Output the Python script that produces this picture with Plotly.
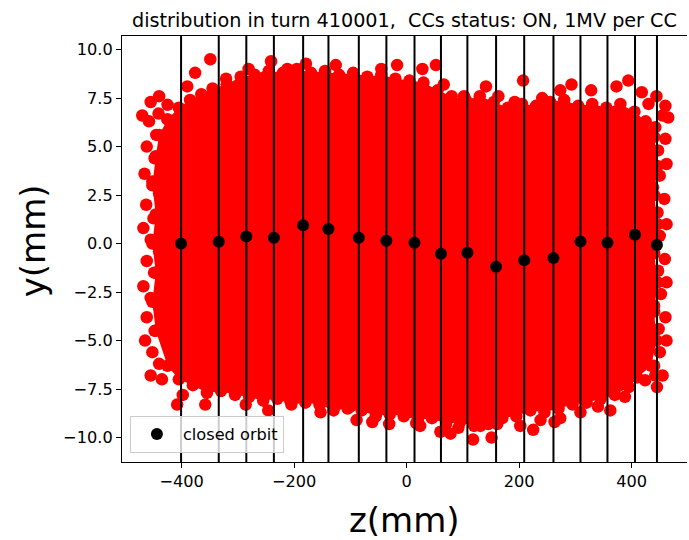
import plotly.graph_objects as go

# Crab-cavity positions along the bunch (mm) and the closed orbit measured at them (mm)
cc_z = [-401, -334, -285, -236, -184, -139, -85, -36, 14, 61, 108, 159, 209, 261, 309, 357, 406, 445]
orbit_y = [0.0, 0.09, 0.37, 0.30, 0.95, 0.75, 0.30, 0.15, 0.04, -0.52, -0.47, -1.2, -0.86, -0.75, 0.11, 0.04, 0.45, -0.07]

# Outline of the densely populated core of the particle distribution (z, y in mm)
core_z = [-425, -405, -385, -365, -345, -320, -295, -270, -245, -220, -195, -170, -145, -120,
          -95, -70, -45, -20, 5, 30, 55, 80, 105, 130, 155, 180, 205, 230, 255, 280, 305, 330,
          355, 380, 405, 425,
          440, 446, 440, 446, 440, 446, 440, 444, 435,
          410, 395, 370, 345, 320, 295, 270, 245, 220, 195, 170, 145, 120, 95, 70, 45, 20,
          -5, -30, -55, -80, -105, -130, -155, -180, -205, -230, -255, -280, -305, -330,
          -355, -380, -405, -425,
          -446, -452, -446, -452, -446, -452, -446, -440]
core_y = [6.4, 7.0, 7.4, 7.7, 8.0, 8.2, 8.6, 8.7, 8.9, 8.8, 9.0, 8.8, 8.9, 8.7,
          8.8, 8.6, 8.7, 8.5, 8.4, 8.3, 7.9, 7.6, 7.4, 7.6, 7.3, 7.0, 7.2, 7.1, 7.3, 7.4, 7.1, 7.2,
          7.0, 7.2, 6.8, 6.3,
          5.5, 4.0, 2.5, 1.0, -0.5, -2.0, -3.5, -5.0, -6.3,
          -6.9, -7.4, -7.8, -8.0, -8.2, -8.3, -8.5, -8.7, -8.6, -8.9, -9.0, -9.3, -9.4, -9.2, -9.3, -9.0, -9.1,
          -8.9, -8.8, -8.9, -8.6, -8.5, -8.6, -8.3, -8.2, -8.3, -8.0, -8.1, -7.9, -7.8, -7.6,
          -7.7, -7.3, -7.0, -6.3,
          -4.5, -3.0, -1.5, 0.0, 1.5, 3.0, 4.5, 5.6]

# Individual particles outside the core (z, y in mm)
halo_z = [-441, -425, -390, -376, -349, -321, -281, -241, -251, -212, -179, -126, -45, -17, 28, 52,
          66, 102, 141, 163, 192, 207, 241, 273, 293, 328, 373, 394, 418, 444, 460, 430, 465,
          -455, -440, -470,
          -458, -445, -462, -448, -466, -452, -440, -463, -450, -468, -455, -440, -462, -449,
          -468, -455, -440, -462, -448, -465, -452, -440, -455, -435,
          -408, -398, -358, -286, -246, -207, -153, -100, -89, -61, -31, 17, 24, 60, 78, 92, 118, 151,
          131, 161, 202, 225, 238, 263, 273, 309, 340, 362, 388, 424, 442,
          455, 442, 460, 447, 462, 450, 438, 458, 446, 462, 450, 438, 459, 447,
          462, 452, 440, 460, 448, 462, 450, 440, 455, 445]
halo_y = [6.7, 7.15, 8.1, 8.8, 9.5, 8.5, 9.0, 9.4, 8.6, 9.0, 9.27, 9.2, 9.0, 9.2, 9.0, 9.2,
          8.2, 7.6, 8.1, 7.6, 7.3, 8.4, 7.5, 7.9, 8.2, 7.9, 8.1, 8.4, 7.8, 7.6, 7.1, 7.2, 6.5,
          7.3, 7.6, 6.6,
          6.3, 5.6, 5.0, 4.4, 3.6, 3.2, 2.6, 2.0, 1.3, 0.8, 0.2, -0.4, -0.9, -1.5,
          -2.2, -2.8, -3.3, -3.8, -4.5, -5.0, -5.6, -6.2, -6.8, -7.0,
          -8.3, -7.8, -8.3, -8.3, -8.6, -8.1, -8.7, -8.4, -9.1, -9.2, -9.3, -9.26, -9.4, -9.7, -9.8, -9.5, -10.1, -10.0,
          -9.4, -9.3, -9.4, -9.6, -9.1, -9.2, -9.0, -8.7, -8.4, -8.6, -7.9, -7.05, -6.8,
          6.6, 6.0, 5.4, 4.8, 4.1, 3.5, 2.9, 2.3, 1.6, 1.0, 0.4, -0.2, -0.8, -1.4,
          -2.0, -2.6, -3.2, -3.8, -4.4, -5.0, -5.6, -6.3, -6.8, -7.4]

x_ticks = [-400, -200, 0, 200, 400]
x_tick_text = ["\u2212400", "\u2212200", "0", "200", "400"]
y_ticks = [-10.0, -7.5, -5.0, -2.5, 0.0, 2.5, 5.0, 7.5, 10.0]
y_tick_text = ["\u221210.0", "\u22127.5", "\u22125.0", "\u22122.5", "0.0", "2.5", "5.0", "7.5", "10.0"]

RED = "#ff0000"
FONT = "DejaVu Sans"
TICK_SIZE = 16.2

fig = go.Figure()

fig.add_trace(go.Scatter(
    x=core_z + core_z[:1], y=core_y + core_y[:1],
    mode="markers", fill="toself", fillcolor=RED,
    marker=dict(color=RED, size=12.5, line=dict(width=0)),
    line=dict(width=0, color=RED), showlegend=False, hoverinfo="skip"))

fig.add_trace(go.Scatter(
    x=halo_z, y=halo_y, mode="markers",
    marker=dict(color=RED, size=12.5, line=dict(width=0)),
    showlegend=False))

# Crab-cavity locations
for z in cc_z:
    fig.add_shape(type="line", xref="x", yref="paper", x0=z, x1=z, y0=0, y1=1,
                  line=dict(color="black", width=2), layer="above")

fig.add_trace(go.Scatter(
    x=cc_z, y=orbit_y, mode="markers", name="closed orbit",
    marker=dict(color="black", size=12, line=dict(width=0))))

fig.update_layout(
    width=689, height=540,
    margin=dict(l=122, r=2, t=36, b=78),
    paper_bgcolor="white", plot_bgcolor="white",
    font=dict(family=FONT, size=TICK_SIZE, color="black"),
    showlegend=True,
    legend=dict(x=0.014, y=0.021, xanchor="left", yanchor="bottom", itemwidth=42,
                bgcolor="rgba(255,255,255,0.8)", bordercolor="#cccccc", borderwidth=1,
                font=dict(family=FONT, size=TICK_SIZE, color="black")),
    xaxis=dict(range=[-506, 498.4], tickvals=x_ticks, ticktext=x_tick_text,
               tickfont=dict(size=TICK_SIZE),
               showgrid=False, zeroline=False, showline=True, linecolor="black", linewidth=1.1,
               mirror=True, ticks="outside", ticklen=5, tickwidth=1.1, tickcolor="black"),
    yaxis=dict(range=[-11.26, 10.70], tickvals=y_ticks, ticktext=y_tick_text,
               tickfont=dict(size=TICK_SIZE),
               showgrid=False, zeroline=False, showline=True, linecolor="black", linewidth=1.1,
               ticks="outside", ticklen=5, tickwidth=1.1, tickcolor="black"),
    annotations=[
        dict(text="distribution in turn 410001,&nbsp; CCs status: ON, 1MV per CC",
             xref="paper", yref="paper", x=0.5, y=1, xanchor="center", yanchor="bottom",
             yshift=2, showarrow=False, font=dict(family=FONT, size=19.2, color="black")),
        dict(text="z(mm)", xref="paper", yref="paper", x=0.5, y=-0.136,
             xanchor="center", yanchor="middle", showarrow=False,
             font=dict(family=FONT, size=34, color="black")),
        dict(text="y(mm)", xref="paper", yref="paper", x=-0.156, y=0.52, textangle=-90,
             xanchor="center", yanchor="middle", showarrow=False,
             font=dict(family=FONT, size=34, color="black")),
    ],
)

fig.write_html("out.html")
